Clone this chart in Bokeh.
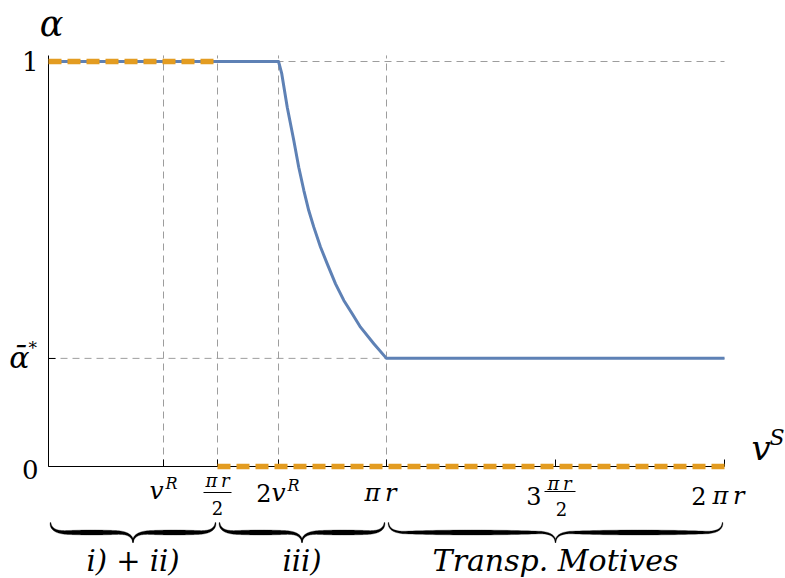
import numpy as np
from bokeh.plotting import figure
from bokeh.models import Range1d, FixedTicker, LinearAxis, Grid
from bokeh.core.properties import value
from bokeh.embed import file_html
from bokeh.resources import INLINE

# ---------------- data ----------------
r = 1.0
v_R = 1.069
alpha_star = 0.267

x_tick_values = [v_R, np.pi * r / 2, 2 * v_R, np.pi * r, 3 * np.pi * r / 2, 2 * np.pi * r]
x_grid_values = [v_R, np.pi * r / 2, 2 * v_R, np.pi * r]
y_tick_values = [0.0, alpha_star, 1.0]
y_grid_values = [alpha_star, 1.0]

blue_x = [0.0, 2.138, 2.168, 2.219, 2.280, 2.326, 2.373, 2.419, 2.466, 2.528, 2.590,
          2.668, 2.745, 2.823, 2.900, 3.024, 3.1416, 6.2832]
blue_y = [1.0, 1.0, 0.970, 0.887, 0.805, 0.739, 0.682, 0.632, 0.591, 0.542, 0.501,
          0.451, 0.410, 0.377, 0.344, 0.303, 0.267, 0.267]

orange_upper_x = [0.0, 1.5708]
orange_upper_y = [1.0, 1.0]
orange_lower_x = [1.5708, 6.2832]
orange_lower_y = [0.0, 0.0]

region_bounds = [(0.0, 1.5708), (1.5708, 3.1416), (3.1416, 6.2832)]
region_labels = ["i) + ii)", "iii)", "Transp. Motives"]
region_label_sizes = [29, 29, 30]

y_top = 1.015

# ---------------- geometry / style ----------------
W, H = 785, 578
OX, OY = 48, 466            # canvas pixel of the data origin
KX = 338 / np.pi            # px per x unit
KY = 405.0                  # px per y unit
X0, X1 = -OX / KX, (W - OX) / KX
Y0, Y1 = -(H - OY) / KY, OY / KY
SERIF = "DejaVu Serif"
BLUE = "#5E81B5"
ORANGE = "#E39C21"
GRID = "#9d9d9d"
TS = "\u2009"  # thin space


def ydat(ref_y):
    return (466 - ref_y) / KY


def pxx(n):
    return n / KX


p = figure(width=W, height=H, x_range=Range1d(X0, X1), y_range=Range1d(Y0, Y1),
           output_backend="svg", toolbar_location=None,
           x_axis_location=None, y_axis_location=None, min_border=0,
           outline_line_color=None, background_fill_color="white",
           border_fill_color="white")
p.center = [c for c in p.center if not isinstance(c, Grid)]

# grid lines (dashed, limited to the plotting region)
p.segment(x0=x_grid_values, y0=[0.0] * len(x_grid_values),
          x1=x_grid_values, y1=[y_top] * len(x_grid_values),
          line_color=GRID, line_width=1, line_dash="7 5")
p.segment(x0=[0.0] * len(y_grid_values), y0=y_grid_values,
          x1=[2 * np.pi * r] * len(y_grid_values), y1=y_grid_values,
          line_color=GRID, line_width=1, line_dash="7 5")

# axes crossing at the origin
xaxis = LinearAxis(fixed_location=0, bounds=(0, 2 * np.pi * r),
                   ticker=FixedTicker(ticks=x_tick_values),
                   major_tick_in=7, major_tick_out=0,
                   minor_tick_line_color=None,
                   major_label_overrides={t: "" for t in x_tick_values},
                   major_label_text_alpha=0,
                   axis_line_color="black", major_tick_line_color="black")
yaxis = LinearAxis(fixed_location=0, bounds=(0, y_top),
                   ticker=FixedTicker(ticks=y_tick_values),
                   major_tick_in=7, major_tick_out=0,
                   minor_tick_line_color=None,
                   major_label_overrides={t: "" for t in y_tick_values},
                   major_label_text_alpha=0,
                   axis_line_color="black", major_tick_line_color="black")
p.add_layout(xaxis, "below")
p.add_layout(yaxis, "left")

# curves
p.line(blue_x, blue_y, line_color=BLUE, line_width=3, line_join="round")
p.line(orange_upper_x, orange_upper_y, line_color=ORANGE, line_width=5.5,
       line_dash="13 6", level="overlay")
p.line(orange_lower_x, orange_lower_y, line_color=ORANGE, line_width=5.5,
       line_dash="13 6", level="overlay")


def add_text(x, y, txt, size, italic=True, align="center", dx=0, dy=0, baseline="alphabetic"):
    if baseline == "alphabetic":
        dy = dy - 0.27 * size
    p.text(x=[x], y=[y], text=[txt], x_offset=dx, y_offset=dy,
           text_font=value(SERIF), text_font_size=f"{size}px",
           text_font_style="italic" if italic else "normal",
           text_align=align, text_baseline=baseline, text_color="black")


def frac_bar(x, ref_y, left, right):
    p.segment(x0=[x + pxx(left)], y0=[ydat(ref_y)], x1=[x + pxx(right)], y1=[ydat(ref_y)],
              line_color="black", line_width=1)


# y tick labels
add_text(0.0, y_tick_values[2], "1", 26, italic=False, align="right", dx=-10, baseline="middle")
add_text(0.0, y_tick_values[0], "0", 26, italic=False, align="right", dx=-10, dy=3, baseline="middle")
add_text(0.0, y_tick_values[1], "ᾱ", 30, italic=True, align="right", dx=-19, dy=-1, baseline="middle")
add_text(0.0, y_tick_values[1], "*", 17, italic=False, align="left", dx=-20, dy=-10, baseline="middle")

# axis names
add_text(0.0, ydat(33), "α", 35, italic=True, align="center", dx=3)
add_text(x_tick_values[5], ydat(457), "v", 34, italic=True, align="left", dx=27)
add_text(x_tick_values[5], ydat(443), "S", 22, italic=True, align="left", dx=45)

# x tick labels
tvR, thalf, t2vR, tpi, t3half, t2pi = x_tick_values
add_text(tvR, ydat(497), "v", 25, italic=True, align="right", dx=0)
add_text(tvR, ydat(487), "R", 16, italic=True, align="left", dx=2)

add_text(thalf, ydat(485), "π" + TS + "r", 18, italic=True, align="center")
frac_bar(thalf, 492, -14, 14)
add_text(thalf, ydat(512), "2", 18, italic=False, align="center")

add_text(t2vR, ydat(499), "2", 24, italic=False, align="right", dx=-7)
add_text(t2vR, ydat(499), "v", 25, italic=True, align="left", dx=-7)
add_text(t2vR, ydat(489), "R", 16, italic=True, align="left", dx=9)

add_text(tpi, ydat(499), "π" + TS + "r", 24, italic=True, align="center", dx=-6)

add_text(t3half, ydat(502), "3", 24, italic=False, align="right", dx=-14)
add_text(t3half, ydat(488), "π" + TS + "r", 18, italic=True, align="center", dx=4)
frac_bar(t3half, 491, -11, 20)
add_text(t3half, ydat(513), "2", 18, italic=False, align="center", dx=6)

add_text(t2pi, ydat(502), "2", 24, italic=False, align="right", dx=-18)
add_text(t2pi, ydat(502), "π" + TS + "r", 24, italic=True, align="left", dx=-12)


# braces under the regions
def brace_halves(a, b):
    xa, xb = a * KX + 2, b * KX - 2
    xc = (xa + xb) / 2
    y_end, y_band, y_tip = 522 - 466, 532 - 466, 542 - 466
    rad = 17
    t = np.linspace(0, 1, 24)
    polys = []
    for x_start, sgn in ((xa, 1), (xb, -1)):
        q1x = (1 - t) ** 2 * x_start + 2 * (1 - t) * t * x_start + t ** 2 * (x_start + sgn * rad)
        q1y = (1 - t) ** 2 * y_end + 2 * (1 - t) * t * y_band + t ** 2 * y_band
        lx = np.linspace(x_start + sgn * rad, xc - sgn * rad, 40)
        ly = np.full_like(lx, y_band)
        q2x = (1 - t) ** 2 * (xc - sgn * rad) + 2 * (1 - t) * t * xc + t ** 2 * xc
        q2y = (1 - t) ** 2 * y_band + 2 * (1 - t) * t * y_band + t ** 2 * y_tip
        X = np.concatenate([q1x, lx[1:], q2x[1:]])
        Y = np.concatenate([q1y, ly[1:], q2y[1:]])
        seg = np.hypot(np.diff(X), np.diff(Y))
        s = np.concatenate([[0], np.cumsum(seg)])
        s = s / s[-1]
        w = 0.7 + 4.3 * np.sin(np.pi * s) ** 0.8
        gx, gy = np.gradient(X), np.gradient(Y)
        nrm = np.hypot(gx, gy)
        nx, ny = -gy / nrm, gx / nrm
        LX, LY = X + nx * w / 2, Y + ny * w / 2
        RX, RY = X - nx * w / 2, Y - ny * w / 2
        PX = np.concatenate([LX, RX[::-1]])
        PY = np.concatenate([LY, RY[::-1]])
        polys.append((PX / KX, -PY / KY))
    return polys


bx, by = [], []
for (a, b) in region_bounds:
    for PX, PY in brace_halves(a, b):
        bx.append(list(PX))
        by.append(list(PY))
p.patches(bx, by, fill_color="black", line_color="black", line_width=0.3)

for (a, b), lab, sz in zip(region_bounds, region_labels, region_label_sizes):
    add_text((a + b) / 2, ydat(568), lab, sz, italic=True, align="center")

open("out.html", "w").write(file_html(p, INLINE))
